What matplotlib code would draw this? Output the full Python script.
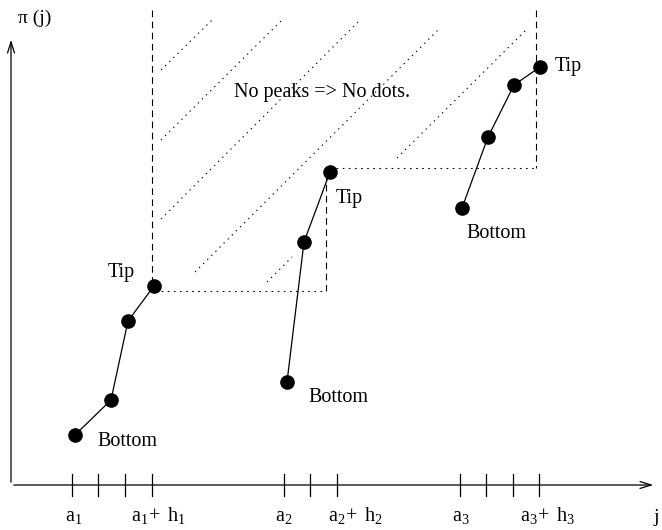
import matplotlib
matplotlib.use("Agg")
import matplotlib.pyplot as plt

plt.rcParams['font.family'] = ['Liberation Serif', 'DejaVu Serif']
plt.rcParams['mathtext.fontset'] = 'custom'
plt.rcParams['mathtext.rm'] = 'Liberation Serif'
plt.rcParams['mathtext.it'] = 'Liberation Serif:italic'

# three runs of points (j, pi(j))
run1_j = [64, 100, 117, 143]
run1_pi = [50, 85, 164, 199]
run2_j = [276, 293, 319]
run2_pi = [103, 243, 313]
run3_j = [451, 477, 503, 529]
run3_pi = [277, 348, 400, 418]

# ticks on the j axis and their labels
tick_j = [61, 87, 114, 140.5, 272.5, 299, 325.5, 449, 475, 502, 528]
label_j = [63, 147, 273, 344, 449.5, 537]
label_txt = [r'$\mathrm{a_1}$', r'$\mathrm{a_1\!+\ h_1}$', r'$\mathrm{a_2}$',
             r'$\mathrm{a_2\!+\ h_2}$', r'$\mathrm{a_3}$', r'$\mathrm{a_3\!+\ h_3}$']

# hatching of the "no peaks" region (start j, start pi, end j, end pi)
hatch = [(150, 415, 201, 465), (150, 345, 271, 465), (150, 266, 349, 465),
         (184, 213, 429, 457), (256, 203, 281, 228), (386, 327, 517, 457)]

fig = plt.figure(figsize=(6.62, 5.3), dpi=100)
ax = fig.add_axes([0, 0, 1, 1])
ax.set_xlim(-11, 651)
ax.set_ylim(-45, 485)
ax.axis('off')

# axes with open arrow heads
ax.annotate('', xy=(0, 448), xytext=(0, 0),
            arrowprops=dict(arrowstyle='->,head_length=0.8,head_width=0.25', lw=0.9, color='black'))
ax.annotate('', xy=(645, 0), xytext=(0, 0),
            arrowprops=dict(arrowstyle='->,head_length=0.8,head_width=0.25', lw=0.9, color='black'))

for t in tick_j:
    ax.plot([t, t], [-11, 11], color='black', lw=0.9)
for x, s in zip(label_j, label_txt):
    ax.text(x, -31, s, ha='center', va='center', fontsize=14.5)
ax.text(645, -33, 'j', ha='center', va='center', fontsize=14)
ax.text(7, 467, 'π (j)', ha='left', va='center', fontsize=14)

# region boundaries
ax.plot([140.5, 140.5], [475, 199], color='black', lw=0.8, ls=(0, (6, 4)))
ax.plot([315, 315], [194, 313], color='black', lw=0.8, ls=(0, (6, 4)))
ax.plot([525, 525], [475, 317], color='black', lw=0.8, ls=(0, (6, 4)))
ax.plot([144, 315], [194, 194], color='black', lw=0.8, ls=(0, (1.5, 4)))
ax.plot([319, 525], [317, 317], color='black', lw=0.8, ls=(0, (1.5, 4)))
for x0, y0, x1, y1 in hatch:
    ax.plot([x0, x1], [y0, y1], color='black', lw=0.8, ls=(0, (1.2, 4)))

for js, ps in [(run1_j, run1_pi), (run2_j, run2_pi), (run3_j, run3_pi)]:
    ax.plot(js, ps, color='black', lw=0.9, marker='o', markersize=9.5)

ax.text(311, 392, 'No peaks => No dots.', ha='center', va='center', fontsize=14.5)
ax.text(110, 212, 'Tip', ha='center', va='center', fontsize=14.5)
ax.text(86, 44, 'Bottom', ha='left', va='center', fontsize=14.5)
ax.text(297, 87, 'Bottom', ha='left', va='center', fontsize=14.5)
ax.text(325, 287, 'Tip', ha='left', va='center', fontsize=14.5)
ax.text(455, 252, 'Bottom', ha='left', va='center', fontsize=14.5)
ax.text(544, 418, 'Tip', ha='left', va='center', fontsize=14.5)

fig.savefig('out.png', dpi=100)
